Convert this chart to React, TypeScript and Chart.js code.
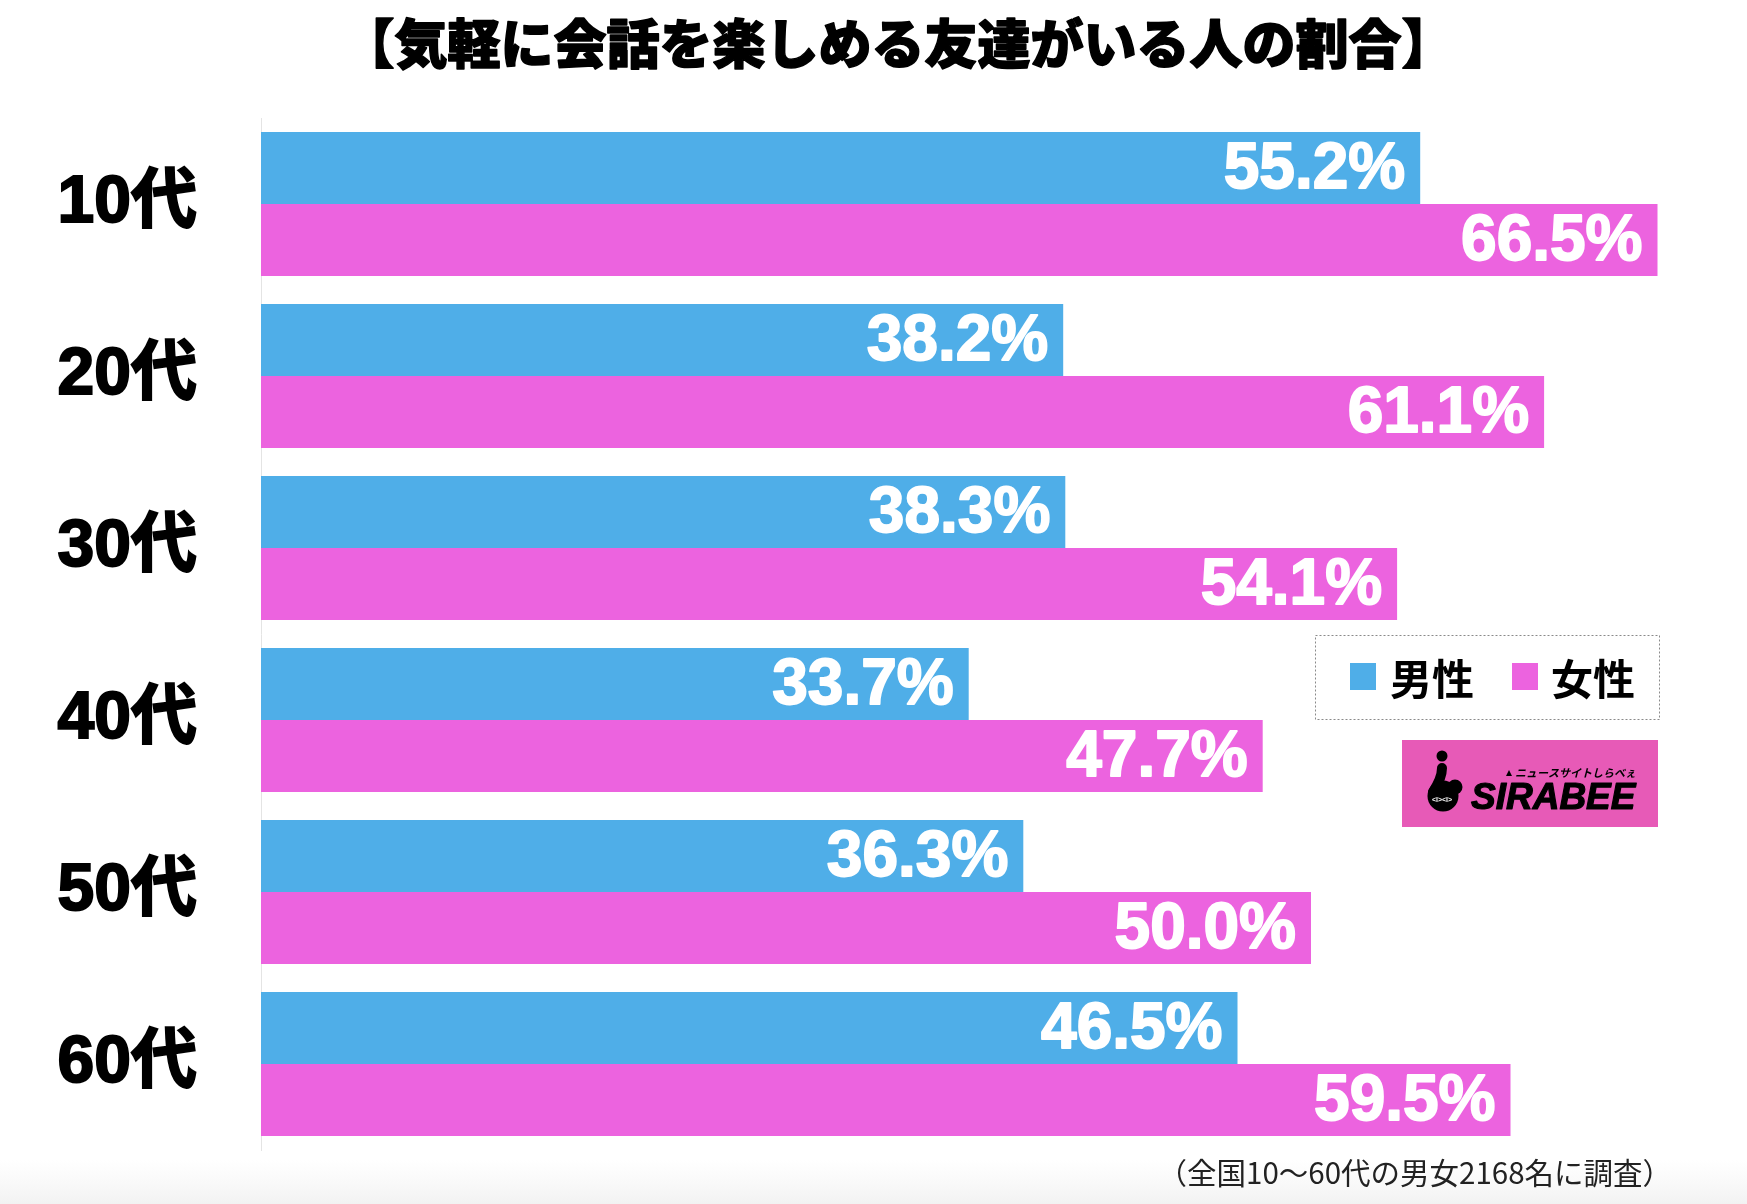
import React, { useEffect, useRef } from "react";
import { Chart, registerables } from "chart.js";

Chart.register(...registerables);

const categories: string[] = ["10代", "20代", "30代", "40代", "50代", "60代"];
const maleValues: number[] = [55.2, 38.2, 38.3, 33.7, 36.3, 46.5];
const femaleValues: number[] = [66.5, 61.1, 54.1, 47.7, 50.0, 59.5];
const seriesNames: string[] = ["男性", "女性"];
const titleText = "【気軽に会話を楽しめる友達がいる人の割合】";
const footnoteText = "（全国10〜60代の男女2168名に調査）";
const logoText = "SIRABEE";
const logoSubText = "ニュースサイトしらべぇ";

const BLUE = "rgb(79,174,232)";
const PINK = "rgb(236,99,223)";
const LOGO_PINK = "rgb(231,90,183)";
const JP = '"Noto Sans CJK JP", "Noto Sans", sans-serif';
const LAT = '"Liberation Sans", Arial, "Noto Sans CJK JP", sans-serif';

const W = 1747;
const H = 1204;

const decorPlugin = {
  id: "decor",
  beforeDraw(chart: any) {
    const ctx = chart.ctx as CanvasRenderingContext2D;
    ctx.save();
    ctx.fillStyle = "#ffffff";
    ctx.fillRect(0, 0, W, H);
    const g = ctx.createLinearGradient(0, 1160, 0, H);
    g.addColorStop(0, "rgba(245,245,245,0)");
    g.addColorStop(1, "rgba(242,242,242,1)");
    ctx.fillStyle = g;
    ctx.fillRect(0, 1160, W, H - 1160);
    ctx.restore();
  },
  afterDatasetsDraw(chart: any) {
    const ctx = chart.ctx as CanvasRenderingContext2D;
    ctx.save();
    ctx.fillStyle = "#ffffff";
    ctx.strokeStyle = "#ffffff";
    ctx.lineWidth = 1.8;
    ctx.lineJoin = "round";
    ctx.font = `bold 64px ${LAT}`;
    ctx.textAlign = "right";
    ctx.textBaseline = "middle";
    chart.data.datasets.forEach((ds: any, di: number) => {
      const meta = chart.getDatasetMeta(di);
      meta.data.forEach((bar: any, i: number) => {
        const v = ds.data[i] as number;
        const t = `${v.toFixed(1)}%`;
        ctx.fillText(t, bar.x - 15, bar.y + 2);
        ctx.strokeText(t, bar.x - 15, bar.y + 2);
      });
    });
    ctx.restore();
  },
  afterDraw(chart: any) {
    const ctx = chart.ctx as CanvasRenderingContext2D;
    ctx.save();
    // Title
    ctx.fillStyle = "#000";
    ctx.strokeStyle = "#000";
    ctx.lineWidth = 1.5;
    ctx.lineJoin = "round";
    ctx.font = `900 53px ${JP}`;
    ctx.textAlign = "center";
    ctx.textBaseline = "middle";
    ctx.fillText(titleText, 898, 44);
    ctx.strokeText(titleText, 898, 44);

    // Legend box
    ctx.setLineDash([2, 2]);
    ctx.strokeStyle = "#8a8a8a";
    ctx.lineWidth = 1;
    ctx.strokeRect(1315.5, 635.5, 344, 84);
    ctx.setLineDash([]);
    ctx.fillStyle = BLUE;
    ctx.fillRect(1350, 663, 26, 27);
    ctx.fillStyle = PINK;
    ctx.fillRect(1512, 663, 26, 27);
    ctx.fillStyle = "#000";
    ctx.font = `bold 42px ${JP}`;
    ctx.textAlign = "left";
    ctx.textBaseline = "middle";
    ctx.fillText(seriesNames[0], 1390, 679);
    ctx.fillText(seriesNames[1], 1551, 679);

    // Logo
    ctx.fillStyle = LOGO_PINK;
    ctx.fillRect(1402, 740, 256, 87);
    ctx.fillStyle = "#000";
    ctx.beginPath();
    ctx.arc(1442, 756, 5.5, 0, Math.PI * 2);
    ctx.fill();
    ctx.beginPath();
    ctx.arc(1443, 796, 15.5, 0, Math.PI * 2);
    ctx.fill();
    ctx.beginPath();
    ctx.arc(1455, 787, 7.5, 0, Math.PI * 2);
    ctx.fill();
    ctx.strokeStyle = "#000";
    ctx.lineWidth = 10;
    ctx.lineCap = "round";
    ctx.beginPath();
    ctx.moveTo(1442, 768);
    ctx.quadraticCurveTo(1442, 778, 1433, 792);
    ctx.stroke();
    ctx.fillStyle = "#fff";
    ctx.font = `bold 7px ${LAT}`;
    ctx.textAlign = "center";
    ctx.textBaseline = "middle";
    ctx.fillText("<I><I>", 1442, 800);
    ctx.fillStyle = "#000";
    ctx.strokeStyle = "#000";
    ctx.lineWidth = 1.2;
    ctx.font = `italic 900 37px ${LAT}`;
    ctx.textAlign = "left";
    ctx.textBaseline = "alphabetic";
    ctx.fillText(logoText, 1471, 809);
    ctx.strokeText(logoText, 1471, 809);
    ctx.font = `italic bold 11px ${JP}`;
    ctx.fillText(logoSubText, 1515, 777);
    ctx.beginPath();
    ctx.moveTo(1506, 776);
    ctx.lineTo(1509, 770);
    ctx.lineTo(1512, 776);
    ctx.closePath();
    ctx.fill();

    // Footnote
    ctx.fillStyle = "#222";
    ctx.font = `29.5px ${JP}`;
    ctx.textAlign = "right";
    ctx.textBaseline = "middle";
    ctx.fillText(footnoteText, 1672, 1173);
    ctx.restore();
  },
};

export default function App() {
  const ref = useRef<HTMLCanvasElement | null>(null);
  useEffect(() => {
    document.body.style.margin = "0";
    const canvas = ref.current;
    if (!canvas) return;
    const chart = new Chart(canvas, {
      type: "bar",
      data: {
        labels: categories,
        datasets: [
          {
            label: seriesNames[0],
            data: maleValues,
            backgroundColor: BLUE,
            borderWidth: 0,
            categoryPercentage: 144 / 172,
            barPercentage: 1,
          },
          {
            label: seriesNames[1],
            data: femaleValues,
            backgroundColor: PINK,
            borderWidth: 0,
            categoryPercentage: 144 / 172,
            barPercentage: 1,
          },
        ],
      },
      options: {
        indexAxis: "y",
        responsive: false,
        maintainAspectRatio: false,
        animation: false,
        devicePixelRatio: 1,
        layout: { padding: { top: 118, bottom: 54, right: 16, left: 0 } },
        plugins: {
          legend: { display: false },
          title: { display: false },
          tooltip: { enabled: false },
        },
        scales: {
          x: { display: false, min: 0, max: 70 },
          y: {
            grid: { display: false, drawTicks: false },
            border: { display: true, color: "#e4e4e4", width: 1 },
            ticks: {
              color: "#000",
              font: { family: LAT, size: 66, weight: "bold" },
              padding: 64,
              textStrokeColor: "#000",
              textStrokeWidth: 2,
            },
            afterFit: (scale: any) => {
              scale.width = 261;
              scale.paddingTop = 0;
              scale.paddingBottom = 0;
            },
          },
        },
      } as any,
      plugins: [decorPlugin],
    });
    return () => chart.destroy();
  }, []);
  return (
    <canvas
      ref={ref}
      width={W}
      height={H}
      style={{ display: "block", width: W, height: H }}
    />
  );
}
